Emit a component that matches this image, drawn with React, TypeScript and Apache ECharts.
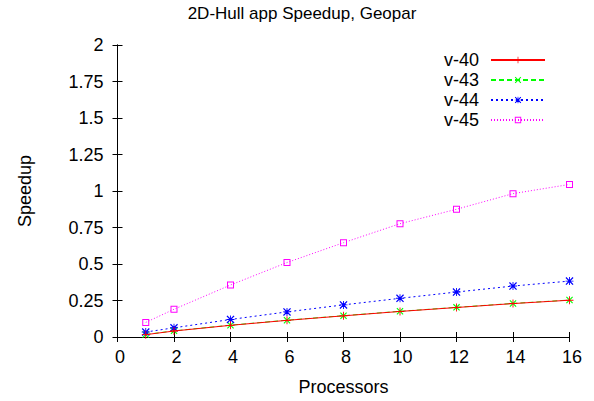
import React, { useEffect, useRef } from "react";
import * as echarts from "echarts";

const processors = [1, 2, 4, 6, 8, 10, 12, 14, 16];
const v40 = [0.016, 0.041, 0.08, 0.114, 0.145, 0.175, 0.202, 0.229, 0.252];
const v43 = [0.017, 0.042, 0.081, 0.115, 0.146, 0.176, 0.203, 0.23, 0.253];
const v44 = [0.034, 0.063, 0.12, 0.172, 0.22, 0.265, 0.308, 0.349, 0.383];
const v45 = [0.1, 0.19, 0.356, 0.51, 0.646, 0.776, 0.875, 0.982, 1.045];

const FONT = "'Liberation Sans', Arial, Helvetica, sans-serif";

const PLUS = "path://M4,0 L5,0 L5,4 L9,4 L9,5 L5,5 L5,9 L4,9 L4,5 L0,5 L0,4 L4,4 Z";
const CROSS =
  "path://M0,1 L1,0 L4.5,3.5 L8,0 L9,1 L5.5,4.5 L9,8 L8,9 L4.5,5.5 L1,9 L0,8 L3.5,4.5 Z";
const STAR =
  "path://M4,0 L5,0 L5,4 L9,4 L9,5 L5,5 L5,9 L4,9 L4,5 L0,5 L0,4 L4,4 Z M0,1 L1,0 L4.5,3.5 L8,0 L9,1 L5.5,4.5 L9,8 L8,9 L4.5,5.5 L1,9 L0,8 L3.5,4.5 Z";
const SQUARE = "path://M0,0 H7 V7 H0 Z M1,1 V6 H6 V1 Z";

function pairs(ys: number[]) {
  return processors.map((x, i) => [x, ys[i]]);
}

export default function App() {
  const ref = useRef<HTMLDivElement>(null);
  useEffect(() => {
    if (!ref.current) return;
    const chart = echarts.init(ref.current, undefined, { renderer: "svg" });
    const axisCommon = {
      axisLine: { show: true, lineStyle: { color: "#000", width: 1 } },
      axisTick: { show: true, inside: true, length: 5, lineStyle: { color: "#000", width: 1 } },
      splitLine: { show: false },
    };
    chart.setOption({
      animation: false,
      backgroundColor: "#fff",
      textStyle: { fontFamily: FONT },
      title: {
        text: "2D-Hull app Speedup, Geopar",
        left: 302,
        textAlign: "center",
        top: 5,
        padding: 0,
        textStyle: { fontFamily: FONT, fontSize: 17, fontWeight: "normal", color: "#000" },
      },
      grid: { left: 117.5, right: 24.5, top: 45, bottom: 62.5, containLabel: false },
      legend: {
        orient: "vertical",
        align: "right",
        right: 48,
        top: 50,
        itemWidth: 54,
        itemHeight: 8,
        itemGap: 0,
        padding: 0,
        textStyle: {
          fontFamily: FONT,
          fontSize: 18,
          color: "#000",
          lineHeight: 20,
          padding: [0, 7, 0, 0],
        },
        data: ["v-40", "v-43", "v-44", "v-45"],
      },
      xAxis: [
        {
          type: "value",
          min: 0,
          max: 16,
          interval: 2,
          name: "Processors",
          nameLocation: "middle",
          nameGap: 41,
          nameTextStyle: { fontFamily: FONT, fontSize: 18, color: "#000" },
          axisLabel: {
            fontFamily: FONT,
            fontSize: 18,
            color: "#000",
            margin: 11,
            padding: [0, 0, 0, 5],
          },
          ...axisCommon,
        },
        {
          type: "value",
          min: 0,
          max: 16,
          interval: 2,
          position: "top",
          axisLabel: { show: false },
          ...axisCommon,
        },
      ],
      yAxis: [
        {
          type: "value",
          min: 0,
          max: 2,
          interval: 0.25,
          name: "Speedup",
          nameLocation: "middle",
          nameGap: 84,
          nameRotate: 90,
          nameTextStyle: { fontFamily: FONT, fontSize: 18, color: "#000" },
          axisLabel: {
            fontFamily: FONT,
            fontSize: 18,
            color: "#000",
            margin: 14,
            padding: [6, 0, 0, 0],
          },
          ...axisCommon,
        },
        {
          type: "value",
          min: 0,
          max: 2,
          interval: 0.25,
          position: "right",
          axisLabel: { show: false },
          ...axisCommon,
        },
      ],
      series: [
        {
          name: "v-40",
          type: "line",
          data: pairs(v40),
          symbol: PLUS,
          symbolSize: 8,
          color: "#ff0000",
          itemStyle: { color: "#ff0000", borderWidth: 0 },
          lineStyle: { color: "#ff0000", width: 1, type: "solid" },
          z: 4,
        },
        {
          name: "v-43",
          type: "line",
          data: pairs(v43),
          symbol: CROSS,
          symbolSize: 7,
          color: "#00ff00",
          itemStyle: { color: "#00ff00", borderWidth: 0 },
          lineStyle: { color: "#00ff00", width: 1, type: [5, 3] },
          z: 3,
        },
        {
          name: "v-44",
          type: "line",
          data: pairs(v44),
          symbol: STAR,
          symbolSize: 8,
          color: "#0000ff",
          itemStyle: { color: "#0000ff", borderWidth: 0 },
          lineStyle: { color: "#0000ff", width: 1, type: [2, 3] },
          z: 3,
        },
        {
          name: "v-45",
          type: "line",
          data: pairs(v45),
          symbol: SQUARE,
          symbolSize: 7,
          color: "#ff00ff",
          itemStyle: { color: "#ff00ff", borderWidth: 0 },
          lineStyle: { color: "#ff00ff", width: 1, type: [1, 2] },
          z: 3,
        },
      ],
    });
    return () => chart.dispose();
  }, []);
  return (
    <div
      ref={ref}
      style={{ position: "fixed", left: 0, top: 0, width: 594, height: 401, background: "#fff" }}
    />
  );
}
